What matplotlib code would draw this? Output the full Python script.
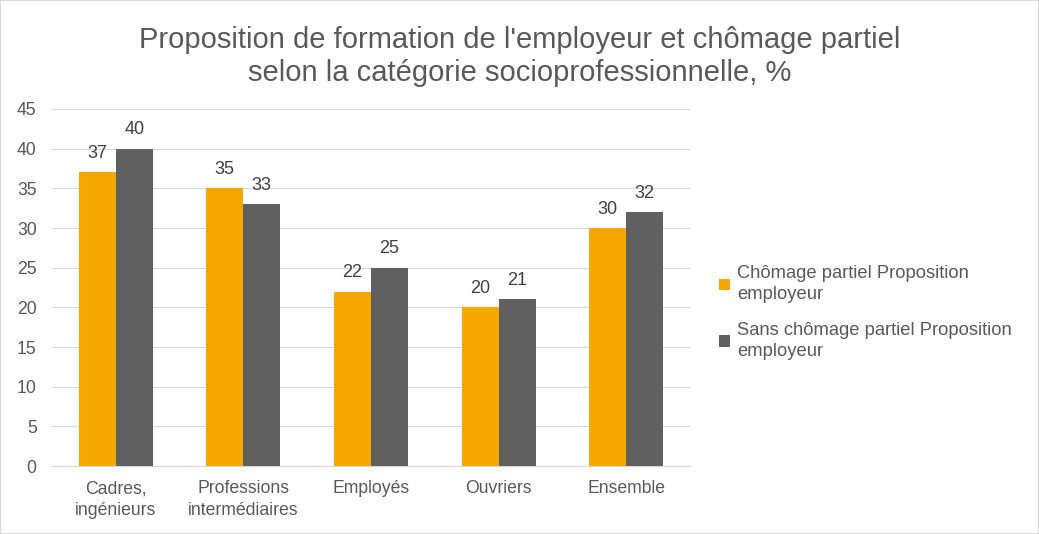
import matplotlib.pyplot as plt
import numpy as np

plt.rcParams['font.family'] = ['Liberation Sans', 'DejaVu Sans']

#%% Data
categories = ["Cadres,\ningénieurs", "Professions\nintermédiaires", "Employés", "Ouvriers", "Ensemble"]
avec_chomage = [37, 35, 22, 20, 30]
sans_chomage = [40, 33, 25, 21, 32]
series_names = ["Chômage partiel Proposition\nemployeur", "Sans chômage partiel Proposition\nemployeur"]

#%% Plot
txt = "#595959"
fig = plt.figure(figsize=(10.39, 5.34), dpi=100)
ax = fig.add_axes([0.050, 0.127, 0.614, 0.669])

x = np.arange(len(categories))
w = 0.29
b1 = ax.bar(x - w/2, avec_chomage, w, color="#F5A800", label=series_names[0], zorder=3)
b2 = ax.bar(x + w/2, sans_chomage, w, color="#606060", label=series_names[1], zorder=3)
for bars in (b1, b2):
    for r in bars:
        ax.text(r.get_x() + r.get_width()/2, r.get_height() + 1.3, f"{r.get_height():.0f}",
                ha="center", va="bottom", fontsize=13, color="#404040")

ax.set_xlim(-0.5, len(categories) - 0.5)
ax.set_ylim(0, 45)
ax.set_yticks(range(0, 50, 5))
ax.set_xticks(x)
ax.set_xticklabels(categories, fontsize=12.7, color=txt, linespacing=1.35)
ax.tick_params(axis="y", labelsize=12.7, labelcolor=txt, length=0, pad=11)
ax.tick_params(axis="x", length=0, pad=10)
ax.grid(axis="y", color="#d9d9d9", linewidth=0.8, zorder=0)
for s in ["top", "right", "left"]:
    ax.spines[s].set_visible(False)
ax.spines["bottom"].set_color("#d9d9d9")

fig.suptitle("Proposition de formation de l'employeur et chômage partiel\nselon la catégorie socioprofessionnelle, %",
             x=0.5, y=0.952, fontsize=21, color=txt, linespacing=1.25)

ax.legend(loc="center left", bbox_to_anchor=(1.02, 0.43), frameon=False,
          labelcolor=txt, handlelength=0.6, handleheight=0.6, handletextpad=0.4,
          labelspacing=1.0, prop={'size': 13.2})
for t in ax.get_legend().get_texts():
    t.set_linespacing(1.3)

fig.patches.append(plt.Rectangle((0, 0), 1, 1, transform=fig.transFigure, fill=False,
                                 edgecolor="#d9d9d9", linewidth=1.5))

fig.savefig("out.png", dpi=100)
